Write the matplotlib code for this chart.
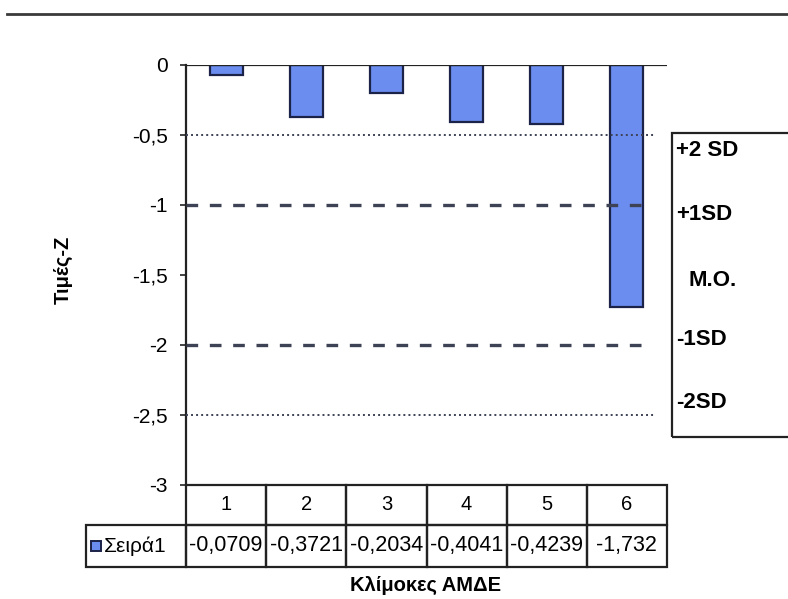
import matplotlib
matplotlib.use("Agg")
import matplotlib.pyplot as plt
from matplotlib.patches import Rectangle
from matplotlib.lines import Line2D
import matplotlib.transforms as mtransforms

# --- data -------------------------------------------------------------
categories = ["1", "2", "3", "4", "5", "6"]
values = [-0.0709, -0.3721, -0.2034, -0.4041, -0.4239, -1.732]
value_labels = ["-0,0709", "-0,3721", "-0,2034", "-0,4041", "-0,4239", "-1,732"]
series_name = "Σειρά1"
y_ticks = [0, -0.5, -1, -1.5, -2, -2.5, -3]
y_tick_labels = ["0", "-0,5", "-1", "-1,5", "-2", "-2,5", "-3"]
ref_levels = [-0.5, -1, -2, -2.5]
ref_styles = ["dotted", "dashed", "dashed", "dotted"]
sd_labels = ["+2 SD", "+1SD", "M.O.", "-1SD", "-2SD"]

plt.rcParams["font.family"] = ["Liberation Sans", "DejaVu Sans"]
narrow = ["Liberation Sans Narrow", "Liberation Sans", "DejaVu Sans"]

W, H = 788, 599
fig = plt.figure(figsize=(W / 100, H / 100), dpi=100)
fig.patch.set_facecolor("white")

# axes box in pixel coordinates
x0, x1, ytop, ybot = 186, 667, 65, 485
ax = fig.add_axes([x0 / W, 1 - ybot / H, (x1 - x0) / W, (ybot - ytop) / H])
ax.set_xlim(0.5, len(categories) + 0.5)
ax.set_ylim(-3, 0)

bar_color = "#6b8df0"
edge_color = "#1c2348"
xs = list(range(1, len(categories) + 1))
ax.bar(xs, values, width=0.41, color=bar_color, edgecolor=edge_color,
       linewidth=1.6, zorder=2)

# reference lines
line_color = "#3d4255"
for lvl, st in zip(ref_levels, ref_styles):
    if st == "dotted":
        ax.plot([0.5, 6.36], [lvl, lvl], color=line_color, lw=1.4,
                linestyle=(0, (1, 1.6)), zorder=3)
    else:
        ax.plot([0.5, 6.26], [lvl, lvl], color=line_color, lw=2.4,
                linestyle=(0, (3.5, 3.5)), zorder=3)

# zero axis line
ax.axhline(0, color="#222222", lw=1.6, zorder=4)

for s in ["top", "right", "bottom"]:
    ax.spines[s].set_visible(False)
ax.spines["left"].set_linewidth(1.6)
ax.spines["left"].set_color("#222222")

ax.set_yticks(y_ticks)
ax.set_yticklabels(y_tick_labels, fontsize=15)
ax.tick_params(axis="y", length=4, width=1.2, color="#222222", pad=9)
ax.set_xticks([])

ax.set_ylabel("Τιμές-Z", fontsize=14.5, fontweight="bold",
              labelpad=0, va="center")
ax.yaxis.set_label_coords((63 - x0) / (x1 - x0), (ybot - 270) / (ybot - ytop))

# data table under the plot
trans = mtransforms.blended_transform_factory(ax.transData, ax.transAxes)
ah = ybot - ytop
r0 = 0.0
r1 = -40 / ah
r2 = -82 / ah
tlw = 1.6
tcol = "#222222"
for i, (c, lab) in enumerate(zip(categories, value_labels)):
    xc = xs[i]
    ax.add_patch(Rectangle((xc - 0.5, r1), 1, r0 - r1, transform=trans,
                           fill=False, lw=tlw, ec=tcol, clip_on=False))
    ax.add_patch(Rectangle((xc - 0.5, r2), 1, r1 - r2, transform=trans,
                           fill=False, lw=tlw, ec=tcol, clip_on=False))
    ax.text(xc, (r0 + r1) / 2, c, transform=trans, ha="center", va="center",
            fontsize=14.5, clip_on=False)
    ax.text(xc, (r1 + r2) / 2, lab, transform=trans, ha="center",
            va="center", fontsize=15.5, clip_on=False)

# legend cell of the table
lx0 = 0.5 - (x0 - 86) / 80
ax.add_patch(Rectangle((lx0, r2), 0.5 - lx0, r1 - r2, transform=trans,
                       fill=False, lw=tlw, ec=tcol, clip_on=False))
kx = 0.5 - (x0 - 91) / 80
ax.add_patch(Rectangle((kx, (r1 + r2) / 2 - 5 / ah), 10 / 80, 10 / ah,
                       transform=trans, fc=bar_color, ec=edge_color, lw=1.4,
                       clip_on=False))
ax.text(0.5 - (x0 - 104) / 80, (r1 + r2) / 2, series_name, transform=trans,
        ha="left", va="center", fontsize=15, clip_on=False)

fig.text(426 / W, 1 - 585 / H, "Κλίμοκες ΑΜΔΕ", ha="center",
         va="center", fontsize=14.5, fontweight="bold")

# SD box on the right
bx0, by0, by1 = 672, 133, 437
fig.add_artist(Rectangle((bx0 / W, 1 - by1 / H), (W + 5 - bx0) / W,
                         (by1 - by0) / H, transform=fig.transFigure,
                         fill=False, lw=1.6, ec=tcol))
sd_y = [150, 215, 280, 340, 403]
sd_x = [676, 676, 688, 676, 676]
for lab, yy, xx in zip(sd_labels, sd_y, sd_x):
    fig.text(xx / W, 1 - yy / H, lab, ha="left", va="center", fontsize=16,
             fontweight="bold", family=narrow)

# rule across the top of the page
fig.add_artist(Line2D([7 / W, 1], [1 - 14 / H, 1 - 14 / H],
                      transform=fig.transFigure, color="#3a3a3a", lw=2))

fig.savefig("out.png", dpi=100, facecolor="white")
